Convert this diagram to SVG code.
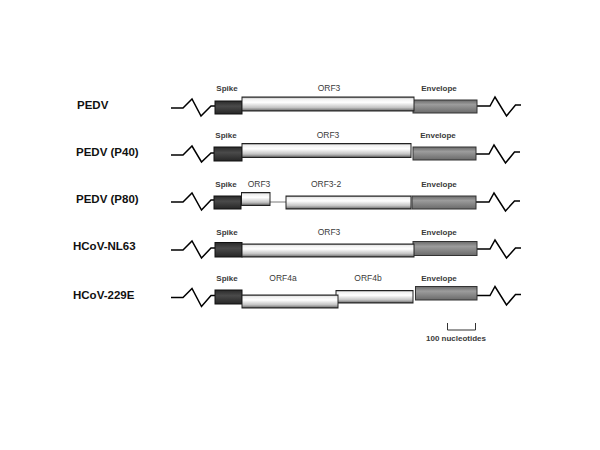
<svg xmlns="http://www.w3.org/2000/svg" width="600" height="450" viewBox="0 0 600 450">
<defs>
<linearGradient id="gOrf" x1="0" y1="0" x2="0" y2="1">
<stop offset="0" stop-color="#555555"/>
<stop offset="0.12" stop-color="#eeeeee"/>
<stop offset="0.38" stop-color="#ffffff"/>
<stop offset="0.75" stop-color="#c4c4c4"/>
<stop offset="0.9" stop-color="#8a8a8a"/>
<stop offset="1" stop-color="#333333"/>
</linearGradient>
<linearGradient id="gSpike" x1="0" y1="0" x2="0" y2="1">
<stop offset="0" stop-color="#2a2a2a"/>
<stop offset="0.4" stop-color="#4a4a4a"/>
<stop offset="1" stop-color="#262626"/>
</linearGradient>
<linearGradient id="gEnv" x1="0" y1="0" x2="0" y2="1">
<stop offset="0" stop-color="#6a6a6a"/>
<stop offset="0.35" stop-color="#9c9c9c"/>
<stop offset="1" stop-color="#6a6a6a"/>
</linearGradient>
</defs>
<style>
.name{font-family:"Liberation Sans",Arial,sans-serif;font-size:11.5px;font-weight:bold;fill:#111}
.lbl{font-family:"Liberation Sans",Arial,sans-serif;font-size:8px;font-weight:bold;fill:#3a3a3a;text-anchor:middle}
.orfl{font-family:"Liberation Sans",Arial,sans-serif;font-size:8.5px;fill:#3a3a3a;text-anchor:middle}
.spike{fill:url(#gSpike);stroke:#111;stroke-width:1}
.orf{fill:url(#gOrf);stroke:#222;stroke-width:1}
.env{fill:url(#gEnv);stroke:#333;stroke-width:1}
.zz{fill:none;stroke:#000;stroke-width:1.5;stroke-linejoin:miter}
.thin{stroke:#555;stroke-width:0.8;fill:none}
.scale{fill:none;stroke:#333;stroke-width:1}
</style>
<rect width="600" height="450" fill="#fff"/>

<g id="connectors">
<path class="zz" d="M171,108 H183 L192,99 L201,116 L211,106 H215"/>
<path class="zz" d="M477,106 H490 L495,97 L506.5,116 L515.5,105 H521"/>
<path class="zz" d="M171,155 H183 L192,146 L201.5,162 L211,153 H214"/>
<path class="zz" d="M476,154 H489 L494,145 L505.5,163 L514.5,152 H520"/>
<path class="zz" d="M171,202 H183 L192,193 L201.5,210 L211,200 H214"/>
<path class="zz" d="M476,202 H489 L494,193 L505.5,211 L514.5,201 H520"/>
<path class="zz" d="M171,250 H183 L192,241 L201.5,258 L211,248 H215"/>
<path class="zz" d="M477,249 H490 L495,240 L506.5,258 L515.5,248 H521"/>
<path class="zz" d="M171,297.5 H183 L192,288.5 L201.5,306.5 L211,295.5 H215"/>
<path class="zz" d="M477,295.5 H490 L495,286.5 L506.5,305 L515.5,294.5 H521"/>
<line class="thin" x1="270" y1="202" x2="286" y2="202"/>
</g>

<g id="row-pedv">
<text class="name" x="77" y="108.5">PEDV</text>
<rect class="spike" x="215" y="101" width="27" height="13"/>
<rect class="env" x="413" y="100" width="64" height="13"/>
<rect class="orf" x="242" y="97" width="172" height="14"/>
<text class="lbl" x="227" y="91">Spike</text>
<text class="orfl" x="329" y="91">ORF3</text>
<text class="lbl" x="439" y="91">Envelope</text>
</g>

<g id="row-pedv-p40">
<text class="name" x="76" y="156">PEDV (P40)</text>
<rect class="spike" x="214" y="147" width="28" height="14"/>
<rect class="orf" x="242" y="143.5" width="169" height="14"/>
<rect class="env" x="413" y="147" width="63" height="13"/>
<text class="lbl" x="226" y="138">Spike</text>
<text class="orfl" x="328" y="138">ORF3</text>
<text class="lbl" x="438" y="138">Envelope</text>
</g>

<g id="row-pedv-p80">
<text class="name" x="76" y="203">PEDV (P80)</text>
<rect class="spike" x="214" y="196" width="27" height="13"/>
<rect class="orf" x="241.5" y="192.5" width="28.5" height="13"/>
<rect class="orf" x="286" y="196" width="125" height="13"/>
<rect class="env" x="412" y="196" width="64" height="13"/>
<text class="lbl" x="226" y="187">Spike</text>
<text class="orfl" x="259" y="187">ORF3</text>
<text class="orfl" x="326" y="187">ORF3-2</text>
<text class="lbl" x="439" y="187">Envelope</text>
</g>

<g id="row-hcov-nl63">
<text class="name" x="73" y="249.5">HCoV-NL63</text>
<rect class="spike" x="215" y="242.5" width="27" height="14.5"/>
<rect class="env" x="413" y="241.5" width="64" height="14"/>
<rect class="orf" x="242" y="244" width="172" height="13"/>
<text class="lbl" x="227" y="235">Spike</text>
<text class="orfl" x="329" y="235">ORF3</text>
<text class="lbl" x="439" y="235">Envelope</text>
</g>

<g id="row-hcov-229e">
<text class="name" x="73" y="298.5">HCoV-229E</text>
<rect class="spike" x="215" y="290" width="27" height="14"/>
<rect class="orf" x="336" y="290.5" width="77" height="12.5"/>
<rect class="orf" x="242" y="295" width="96" height="13"/>
<rect class="env" x="415.5" y="286.5" width="61.5" height="13.5"/>
<text class="lbl" x="227" y="281">Spike</text>
<text class="orfl" x="283" y="281">ORF4a</text>
<text class="orfl" x="368" y="281">ORF4b</text>
<text class="lbl" x="439" y="281">Envelope</text>
</g>

<g id="scale-bar">
<path class="scale" d="M447.5,323 V330 H475.5 V323"/>
<text class="lbl" x="456" y="340.5">100 nucleotides</text>
</g>
</svg>
